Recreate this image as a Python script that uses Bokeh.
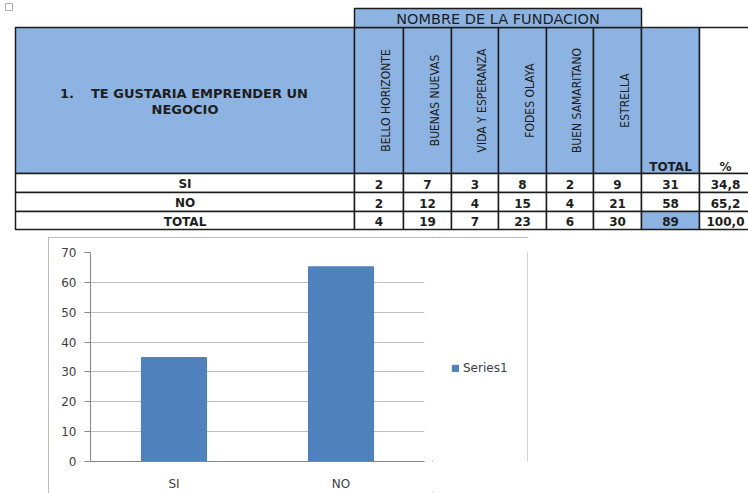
import math
from bokeh.plotting import figure
from bokeh.layouts import column, row
from bokeh.models import (Range1d, FactorRange, Legend, LegendItem, ColumnDataSource,
                          Spacer, FixedTicker)
from bokeh.core.properties import value
from bokeh.embed import file_html
from bokeh.resources import INLINE

# ---------------- data ----------------
question_line1 = "TE GUSTARIA  EMPRENDER  UN"
question_num = "1."
question_line2 = "NEGOCIO"
group_title = "NOMBRE DE LA FUNDACION"
foundations = ["BELLO HORIZONTE", "BUENAS NUEVAS", "VIDA Y ESPERANZA",
               "FODES OLAYA", "BUEN SAMARITANO", "ESTRELLA"]
row_labels = ["SI", "NO", "TOTAL"]
si_counts = [2, 7, 3, 8, 2, 9]
no_counts = [2, 12, 4, 15, 4, 21]
total_counts = [4, 19, 7, 23, 6, 30]
row_totals = [31, 58, 89]
row_pcts = ["34,8", "65,2", "100,0"]

categories = ["SI", "NO"]
percentages = [34.8, 65.2]
y_ticks = [0, 10, 20, 30, 40, 50, 60, 70]
series_name = "Series1"

# ---------------- layout (page pixels) ----------------
col_edges = [15, 354, 403, 451, 498, 546, 593, 641, 699, 755]
row_edges = [27, 173, 192, 211, 229]
title_top = 8
BLUE = "#8DB3E2"
LINE = "#1c1c1c"
TXT = "#1e1e1e"
BAR = "#4F81BD"
FRAME = "#A6A6A6"
FONT = value("DejaVu Sans")
NARROW = value("Liberation Sans Narrow, DejaVu Sans Condensed, sans-serif")

t = figure(width=748, height=237, x_range=Range1d(0, 748), y_range=Range1d(237, 0),
           output_backend="svg", toolbar_location=None,
           x_axis_type=None, y_axis_type=None,
           min_border_left=0, min_border_right=0, min_border_top=0, min_border_bottom=0)
t.outline_line_color = None
t.grid.visible = False

# small placeholder icon in the top-left corner
t.quad(left=[5], right=[12], top=[3], bottom=[10], fill_color=None, line_color="#B0B0B0", line_width=1)

L, R, T, B, F = [], [], [], [], []
def cell(l, r, tp, bt, fill):
    L.append(l); R.append(r); T.append(tp); B.append(bt); F.append(fill)

cell(col_edges[0], col_edges[1], row_edges[0], row_edges[1], BLUE)
for i in range(len(foundations)):
    cell(col_edges[i + 1], col_edges[i + 2], row_edges[0], row_edges[1], BLUE)
cell(col_edges[7], col_edges[8], row_edges[0], row_edges[1], BLUE)
cell(col_edges[8], col_edges[9], row_edges[0], row_edges[1], "white")
cell(col_edges[1], col_edges[7], title_top, row_edges[0], BLUE)
for r in range(3):
    for c in range(len(col_edges) - 1):
        fill = BLUE if (r == 2 and c == 7) else "white"
        cell(col_edges[c], col_edges[c + 1], row_edges[r + 1], row_edges[r + 2], fill)

t.quad(left=L, right=R, top=T, bottom=B, fill_color=F, line_color=LINE, line_width=1.5)

def txt(xs, ys, texts, size="12px", font=FONT, style="bold", align="center", angle=0.0):
    t.text(x=xs, y=ys, text=texts, text_font=font, text_font_size=size,
           text_font_style=style, text_color=TXT, text_align=align,
           text_baseline="middle", angle=angle)

hc = (row_edges[0] + row_edges[1]) / 2
qc = (col_edges[0] + col_edges[1]) / 2
txt([qc - 125], [hc - 7], [question_num], size="13px", align="left")
txt([qc + 19], [hc - 7], [question_line1], size="13px")
txt([qc], [hc + 9], [question_line2], size="13px")
txt([(col_edges[1] + col_edges[7]) / 2], [(title_top + row_edges[0]) / 2 + 1], [group_title],
    size="14.5px", style="normal")

fx = [(col_edges[i + 1] + col_edges[i + 2]) / 2 + 7 for i in range(len(foundations))]
txt(fx, [hc] * len(foundations), foundations, size="12px", font=NARROW, style="normal",
    angle=math.pi / 2)
txt([(col_edges[7] + col_edges[8]) / 2, (col_edges[8] + col_edges[9]) / 2 - 2],
    [row_edges[1] - 7] * 2, ["TOTAL", "%"])

rows_vals = [si_counts, no_counts, total_counts]
for r in range(3):
    yc = (row_edges[r + 1] + row_edges[r + 2]) / 2 + 1
    xs = [qc] + [(col_edges[c + 1] + col_edges[c + 2]) / 2 for c in range(6)] + \
         [(col_edges[7] + col_edges[8]) / 2, (col_edges[8] + col_edges[9]) / 2 - 2]
    labels = [row_labels[r]] + [str(v) for v in rows_vals[r]] + [str(row_totals[r]), row_pcts[r]]
    txt(xs, [yc] * len(xs), labels)

# ---------------- bar chart ----------------
ch = figure(width=384, height=256, x_range=FactorRange(factors=categories), y_range=Range1d(0, 70),
            output_backend="svg", toolbar_location=None,
            min_border_left=42, min_border_right=8, min_border_top=15, min_border_bottom=26)
ch.outline_line_color = None
src = ColumnDataSource(dict(cat=categories, val=percentages))
bars = ch.vbar(x="cat", top="val", width=0.39, source=src,
               fill_color=BAR, line_color="#4A7EBB", line_width=1)
ch.xgrid.visible = False
ch.ygrid.ticker = FixedTicker(ticks=y_ticks)
ch.ygrid.grid_line_color = "#BFBFBF"
ch.yaxis.ticker = FixedTicker(ticks=y_ticks)
for ax in (ch.xaxis, ch.yaxis):
    ax.axis_line_color = "#868686"
    ax.major_label_text_font = "DejaVu Sans"
    ax.major_label_text_font_size = "12px"
    ax.major_label_text_color = "#404040"
    ax.minor_tick_line_color = None
ch.yaxis.major_tick_line_color = "#868686"
ch.yaxis.major_tick_out = 6
ch.yaxis.major_tick_in = 0
ch.yaxis.major_label_standoff = 8
ch.xaxis.major_tick_line_color = None
ch.xaxis.major_label_standoff = 9

# legend panel (separate small figure to the right of the plot area)
lg = figure(width=96, height=256, x_range=Range1d(0, 96), y_range=Range1d(0, 256),
            output_backend="svg", toolbar_location=None, x_axis_type=None, y_axis_type=None,
            min_border_left=0, min_border_right=0, min_border_top=0, min_border_bottom=0)
lg.outline_line_color = None
lg.grid.visible = False
# hidden sample glyph (outside the visible range) that only feeds the legend swatch
lg_r = lg.vbar(x=[-1000], top=[1], width=1, fill_color=BAR, line_color="#4A7EBB")
# right edge of the chart box
lg.segment(x0=[95.5], y0=[0], x1=[95.5], y1=[256], line_color=FRAME, line_width=1)
legend = Legend(items=[LegendItem(label=series_name, renderers=[lg_r])], location=(19, 86),
                border_line_color=None, background_fill_color=None,
                glyph_width=8, glyph_height=8, label_standoff=4, padding=0, margin=0,
                label_text_font="DejaVu Sans", label_text_font_size="12px",
                label_text_color="#404040")
lg.add_layout(legend)

chart_box = row(ch, lg, styles={"outline": "1px solid " + FRAME, "outline-offset": "-1px"})
layout = column(t, row(Spacer(width=48, height=256), chart_box))
open("out.html", "w").write(file_html(layout, INLINE))
